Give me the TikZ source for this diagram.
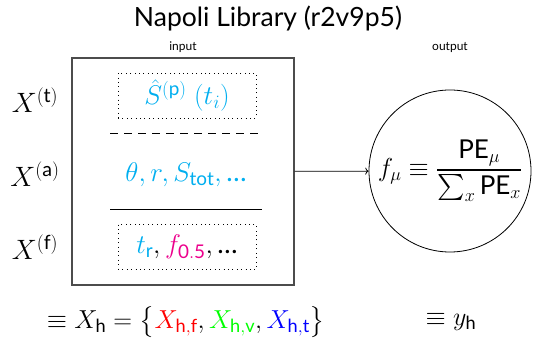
\RequirePackage{fix-cm}
\documentclass[tikz,border=0pt]{standalone}
\usepackage{amsmath,amssymb}
\usepackage{fontspec}
\setmainfont{Lato}
\setsansfont{Lato}
\usetikzlibrary{arrows.meta,positioning}
\definecolor{cyanish}{HTML}{00AEEF}
\definecolor{magentaish}{HTML}{EC008C}
\definecolor{redish}{HTML}{FF0000}
\definecolor{greenish}{HTML}{00FF00}
\definecolor{blueish}{HTML}{0000FF}
\newcommand{\srm}[1]{\mathsf{#1}}
\newcommand{\dotsx}{\text{\ldots}}
\tikzset{
  sidelabel/.style={font=\fontsize{28}{34}\selectfont},
  smalllabel/.style={font=\fontsize{12}{14}\selectfont},
  dotbox/.style={draw,dash pattern=on 0.8pt off 3.6pt,minimum width=138pt,minimum height=45pt,text=cyanish,font=\fontsize{27}{32}\selectfont},
  valtext/.style={text=cyanish,font=\fontsize{27}{32}\selectfont}
}

\begin{document}
\begin{tikzpicture}[x=1pt,y=-1pt,>=To,line width=0.8pt]
        \useasboundingbox (0,0) rectangle (533,339);
        \node[font=\fontsize{26.5}{30}\selectfont] (title) at (268,19) {Napoli Library (r2v9p5)};
        \node[draw=black!70,line width=1.1pt,minimum width=222pt,minimum height=227pt] (inbox) at (183,171.5) {};
        \node[smalllabel,above=1pt of inbox] (inlbl) {input};
        \node[dotbox] (spec) at (187,95.5) {$\hat{S}^{\srm{(p)}}\;(t_i)$};
        \draw[dash pattern=on 8pt off 6pt] (110,133) -- (262,133);
        \node[valtext] (aux) at (186,175) {$\theta, r, S_{\srm{tot}}, \dotsx$};
        \draw (110,209) -- (262,209);
        \node[dotbox,text=black] (feat) at (187,247) {${\color{cyanish}t_{\srm{r}}}, {\color{magentaish}f_{\srm{0.5}}}, \dotsx$};
        \node[sidelabel] (xt) at (35,100) {$X^{\srm{(t)}}$};
        \node[sidelabel] (xa) at (35,174) {$X^{\srm{(a)}}$};
        \node[sidelabel] (xf) at (35,247) {$X^{\srm{(f)}}$};
        \node[draw,circle,minimum size=162pt,inner sep=0pt,font=\fontsize{26}{30}\selectfont] (outc) at (450,171) {$f_\mu \equiv \dfrac{\srm{PE}_\mu}{\textstyle\sum_x \srm{PE}_x}$};
        \node[smalllabel] (outlbl) at (450,48) {output};
        \draw[->] (inbox) -- (outc);
        \node[sidelabel,font=\fontsize{26}{30}\selectfont] (xh) at (186,322) {$\equiv X_{\srm{h}} = \bigl\{{\color{redish}X_{\srm{h,f}}}, {\color{greenish}X_{\srm{h,v}}}, {\color{blueish}X_{\srm{h,t}}}\bigr\}$};
        \node[sidelabel,font=\fontsize{26}{30}\selectfont] (yh) at (451,322) {$\equiv y_{\srm{h}}$};
      \end{tikzpicture}
\end{document}
